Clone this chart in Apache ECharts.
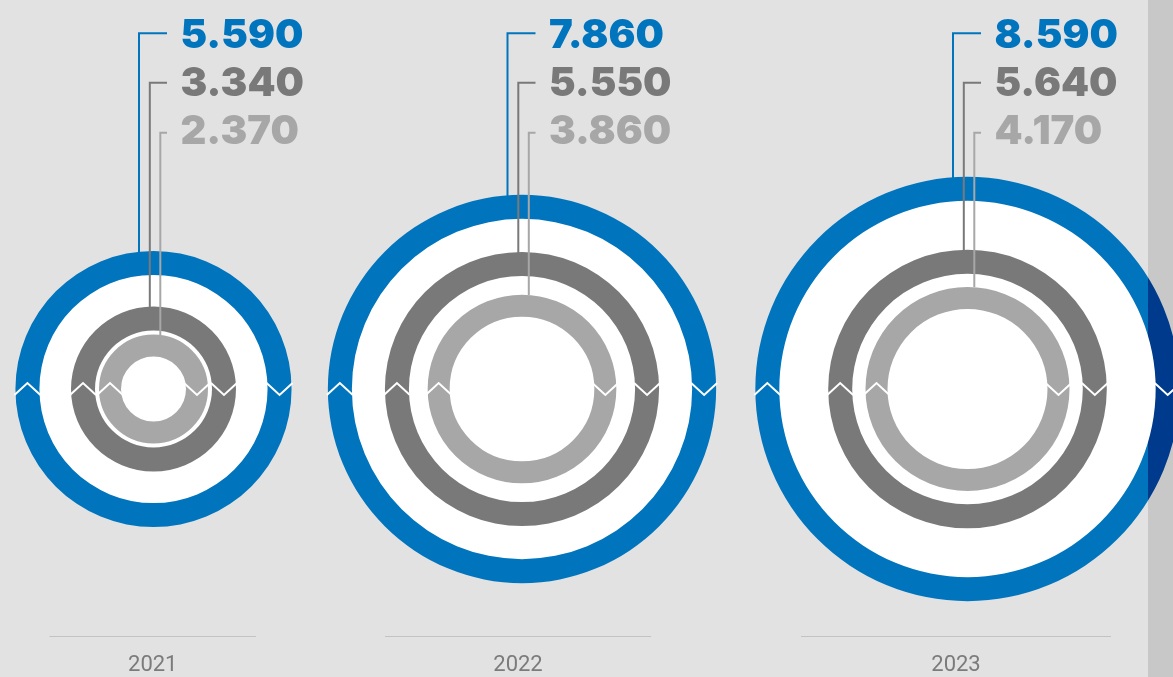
<!DOCTYPE html>
<html>
<head>
<meta charset="utf-8">
<script src="https://cdn.jsdelivr.net/npm/echarts@6/dist/echarts.min.js"></script>
<style>
html,body{margin:0;padding:0;background:#e2e2e2;overflow:hidden;}
#c{width:1173px;height:677px;}
</style>
</head>
<body>
<div id="c"></div>
<script>
// ---- data ----
const years = ['2021', '2022', '2023'];
const totalValues = [5590, 7860, 8590];   // outer blue ring
const midValues = [3340, 5550, 5640];     // dark grey ring
const innerValues = [2370, 3860, 4170];   // light grey ring

// ---- layout / style constants ----
const PX_PER_UNIT = 0.0247;
const RING_W = 24;
const CY = 389;
const centersX = [153.5, 522, 967.5];
const underlines = [[49.5, 256], [385, 651], [801, 1111]];
const LINE_DX = [-14.5, -3.7, 6.8];
const TICK_Y = [33.3, 82.7, 132.7];
const LABEL_Y = [33.3, 81.5, 129.5];
const COLORS = ['#0075be', '#797979', '#a7a7a7'];
const NAVY = '#003a8c';
const BG = '#e2e2e2';
const STRIP_X = 1148;

function fmt(v) { return (v / 1000).toFixed(3); }

const series = [];
const graphic = [];

// right strip background
graphic.push({ type: 'rect', zlevel: 0, z: -5, silent: true,
  shape: { x: STRIP_X, y: 0, width: 1173 - STRIP_X, height: 677 },
  style: { fill: '#c8c8c8' } });

years.forEach((yr, i) => {
  const cx = centersX[i];
  const blueOut = totalValues[i] * PX_PER_UNIT;
  const blueIn = blueOut - RING_W;
  const darkOut = midValues[i] * PX_PER_UNIT;
  const darkIn = darkOut - RING_W;
  const lightOut = Math.min(innerValues[i] * PX_PER_UNIT, darkIn - 3);
  const lightIn = lightOut - RING_W;
  const rings = [
    { name: 'Gesamt', value: totalValues[i], rIn: blueIn, rOut: blueOut, color: COLORS[0] },
    { name: 'Mitte', value: midValues[i], rIn: darkIn, rOut: darkOut, color: COLORS[1] },
    { name: 'Innen', value: innerValues[i], rIn: lightIn, rOut: lightOut, color: COLORS[2] }
  ];
  const common = { type: 'pie', silent: true, animation: false, center: [cx, CY],
    label: { show: false }, labelLine: { show: false }, emphasis: { disabled: true }, startAngle: 90 };
  // white inner disc
  series.push(Object.assign({}, common, { name: 'bg' + yr, z: 1, radius: [0, blueIn + 0.5],
    data: [{ value: totalValues[i], itemStyle: { color: '#ffffff' } }] }));
  rings.forEach((r, k) => {
    series.push(Object.assign({}, common, {
      name: r.name + ' ' + yr,
      z: 2 + k,
      zlevel: (i === 2 && k === 0) ? 1 : 0,
      radius: [r.rIn, r.rOut],
      data: [{ name: yr, value: r.value, itemStyle: { color: r.color,
        borderColor: k === 2 ? '#ffffff' : r.color, borderWidth: k === 2 ? 2 : 0 } }]
    }));
    // chevrons (left: up, right: down)
    const mid = (r.rIn + r.rOut) / 2;
    graphic.push({ type: 'polyline', zlevel: 2, z: 10, silent: true,
      shape: { points: [[cx - r.rOut - 1, CY + 6], [cx - mid, CY - 6], [cx - r.rIn + 1, CY + 6]] },
      style: { stroke: '#ffffff', lineWidth: 2, fill: null } });
    graphic.push({ type: 'polyline', zlevel: 2, z: 10, silent: true,
      shape: { points: [[cx + r.rIn - 1, CY - 6], [cx + mid, CY + 6], [cx + r.rOut + 1, CY - 6]] },
      style: { stroke: '#ffffff', lineWidth: 2, fill: null } });
    // leader line
    const lx = cx + LINE_DX[k];
    const yEnd = CY - Math.sqrt(r.rOut * r.rOut - LINE_DX[k] * LINE_DX[k]) + 1;
    graphic.push({ type: 'polyline', zlevel: 2, z: 5, silent: true,
      shape: { points: [[lx, yEnd], [lx, TICK_Y[k]], [cx + 13.5, TICK_Y[k]]] },
      style: { stroke: r.color, lineWidth: 2, fill: null } });
    // value label
    graphic.push({ type: 'text', zlevel: 2, z: 6, silent: true,
      x: cx + 27, y: LABEL_Y[k] + 2.5,
      style: { text: fmt(r.value), fill: r.color, font: '900 40px Inter',
        textAlign: 'left', textVerticalAlign: 'middle', align: 'left', verticalAlign: 'middle' } });
  });
  // underline and year
  const u = underlines[i];
  graphic.push({ type: 'line', zlevel: 0, z: 5, silent: true,
    shape: { x1: u[0], y1: 636.5, x2: u[1], y2: 636.5 },
    style: { stroke: '#c3c3c3', lineWidth: 1 } });
  graphic.push({ type: 'text', zlevel: 0, z: 5, silent: true,
    x: (u[0] + u[1]) / 2, y: 665.5,
    style: { text: yr, fill: '#7b7b7b', font: '22px Roboto',
      textAlign: 'center', textVerticalAlign: 'middle', align: 'center', verticalAlign: 'middle' } });
});

// darken the blue ring where it runs under the right strip (only that layer)
graphic.push({ type: 'rect', zlevel: 1, z: 100, silent: true,
  shape: { x: STRIP_X, y: 0, width: 1173 - STRIP_X, height: 677 },
  style: { fill: NAVY, blend: 'source-atop' } });

const chart = echarts.init(document.getElementById('c'), null, { renderer: 'canvas' });
chart.setOption({
  backgroundColor: BG,
  animation: false,
  tooltip: { show: false },
  series: series,
  graphic: { elements: graphic }
});
</script>
</body>
</html>
